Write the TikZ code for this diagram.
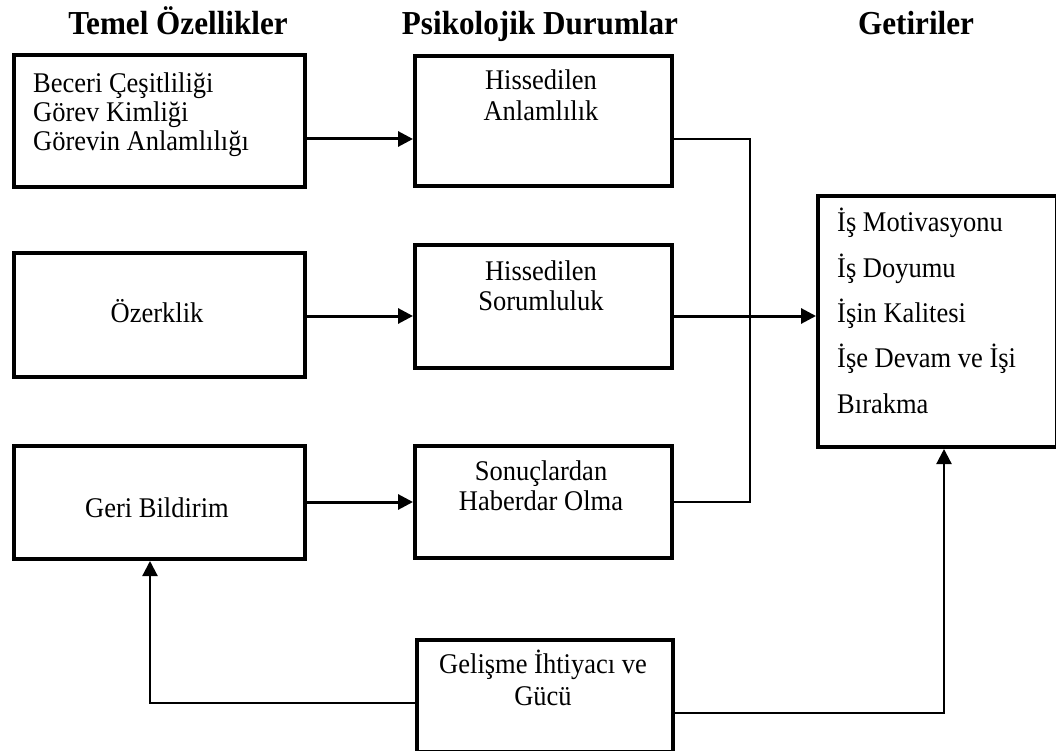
\documentclass[tikz,border=0pt]{standalone}
\usepackage{fontspec}
\setmainfont{Liberation Serif}[FakeStretch=0.93]
\usetikzlibrary{arrows.meta}
\begin{document}
\begin{tikzpicture}[x=1pt,y=-1pt,
  box/.style={draw,line width=4pt,inner sep=0pt,anchor=north west},
  txt/.style={inner sep=0pt,font=\fontsize{28.5}{32}\selectfont},
  head/.style={inner sep=0pt,anchor=base,font=\fontsize{33.5}{38}\selectfont\bfseries},
  arr/.style={line width=3pt,-{Triangle[length=15pt,width=15pt]}},
  link/.style={line width=1.6pt},
  feed/.style={line width=2.2pt,-{Triangle[length=15pt,width=15pt]}}]
\useasboundingbox (0,0) rectangle (1056,751);

% column headings
\node[head] (h1) at (178,35) {Temel Özellikler};
\node[head] (h2) at (540,35) {Psikolojik Durumlar};
\node[head] (h3) at (916,35) {Getiriler};

% core job characteristics
\node[box,minimum width=291pt,minimum height=132pt] (b1) at (12,53) {};
\node[box,minimum width=291pt,minimum height=124pt] (b2) at (12,251) {};
\node[box,minimum width=291pt,minimum height=113pt] (b3) at (12,444) {};
\node[txt,anchor=base west] (b1a) at (33,93) {Beceri Çeşitliliği};
\node[txt,anchor=base west] (b1b) at (33,122) {Görev Kimliği};
\node[txt,anchor=base west] (b1c) at (33,151) {Görevin Anlamlılığı};
\node[txt,anchor=base] (b2a) at (157,322) {Özerklik};
\node[txt,anchor=base] (b3a) at (157,517) {Geri Bildirim};

% psychological states
\node[box,minimum width=257pt,minimum height=130pt] (m1) at (413,54) {};
\node[box,minimum width=257pt,minimum height=123pt] (m2) at (413,243) {};
\node[box,minimum width=257pt,minimum height=112pt] (m3) at (413,444) {};
\node[txt,anchor=base] (m1a) at (541,90) {Hissedilen};
\node[txt,anchor=base] (m1b) at (541,121) {Anlamlılık};
\node[txt,anchor=base] (m2a) at (541,280) {Hissedilen};
\node[txt,anchor=base] (m2b) at (541,310) {Sorumluluk};
\node[txt,anchor=base] (m3a) at (541,480) {Sonuçlardan};
\node[txt,anchor=base] (m3b) at (541,510) {Haberdar Olma};

% outcomes
\node[box,minimum width=239pt,minimum height=251pt] (r) at (816,194) {};
\node[txt,anchor=base west] (r1) at (837,232) {İş Motivasyonu};
\node[txt,anchor=base west] (r2) at (837,277) {İş Doyumu};
\node[txt,anchor=base west] (r3) at (837,322) {İşin Kalitesi};
\node[txt,anchor=base west] (r4) at (837,367) {İşe Devam ve İşi};
\node[txt,anchor=base west] (r5) at (837,413) {Bırakma};

% growth need strength
\node[box,minimum width=256pt,minimum height=112pt] (g) at (415,638) {};
\node[txt,anchor=base] (ga) at (543,673) {Gelişme İhtiyacı ve};
\node[txt,anchor=base] (gb) at (543,705) {Gücü};

% connector levels
\coordinate (y1) at (0,139);
\coordinate (y2) at (0,316);
\coordinate (y3) at (0,502);
\coordinate (bus) at (750,0);
\coordinate (gl) at (150,703);
\coordinate (gr) at (944,713);

% characteristics -> states
\draw[arr] (b1.east |- y1) -- (m1.west |- y1);
\draw[arr] (b2.east |- y2) -- (m2.west |- y2);
\draw[arr] (b3.east |- y3) -- (m3.west |- y3);

% states -> outcomes
\draw[link] (m1.east |- y1) -- (bus |- y1) -- (bus |- y3) -- (m3.east |- y3);
\draw[arr] (m2.east |- y2) -- (r.west |- y2);

% moderating links
\draw[feed] (g.west |- gl) -- (gl) -- (b3.south -| gl);
\draw[feed] (g.east |- gr) -- (gr) -- (r.south -| gr);
\end{tikzpicture}
\end{document}
